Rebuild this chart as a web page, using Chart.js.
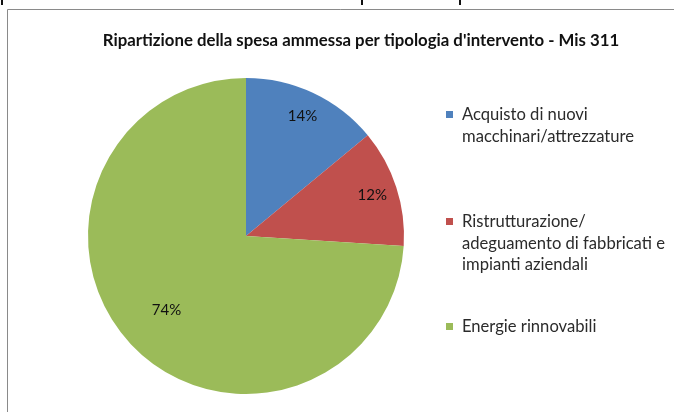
<!DOCTYPE html>
<html>
<head>
<meta charset="utf-8">
<script src="https://cdn.jsdelivr.net/npm/chart.js@4.4.0/dist/chart.umd.min.js"></script>
<style>
  html, body { margin: 0; padding: 0; background: #fff; }
  #wrap { position: relative; width: 674px; height: 412px; }
</style>
</head>
<body>
<div id="wrap"><canvas id="graficoTorta" width="674" height="412"></canvas></div>
<script>
// Dati del grafico
const titolo = "Ripartizione della spesa ammessa per tipologia d'intervento - Mis 311";
const categorie = [
    ["Acquisto di nuovi", "macchinari/attrezzature"],
    ["Ristrutturazione/", "adeguamento di fabbricati e", "impianti aziendali"],
    ["Energie rinnovabili"]
];
const percentuali = [14, 12, 74];
const colori = ["#4F81BD", "#C0504D", "#9BBB59"];

// Plugin per cornice, titolo, etichette e legenda
const decorazioni = {
    id: "decorazioni",
    beforeDraw(chart) {
        const ctx = chart.ctx;
        ctx.save();
        ctx.fillStyle = "#fff";
        ctx.fillRect(0, 0, chart.width, chart.height);
        // cornice del grafico (solo lati superiore e sinistro visibili)
        ctx.strokeStyle = "#8a8a8a";
        ctx.lineWidth = 1;
        ctx.beginPath();
        ctx.moveTo(7.5, chart.height);
        ctx.lineTo(7.5, 9.5);
        ctx.lineTo(chart.width, 9.5);
        ctx.stroke();
        // resti del testo soprastante
        ctx.fillStyle = "#111";
        [1, 361, 459].forEach(x => ctx.fillRect(x, 0, 2, 5));
        ctx.restore();
    },
    afterDraw(chart, args, opts) {
        const ctx = chart.ctx;
        ctx.save();

        // titolo
        ctx.fillStyle = "#111";
        ctx.font = "bold 16.8px Lato, 'Open Sans', sans-serif";
        ctx.textAlign = "center";
        ctx.textBaseline = "middle";
        ctx.fillText(titolo, 361, 41);

        // percentuali dentro le fette
        ctx.font = "15px Lato, 'Open Sans', sans-serif";
        ctx.fillStyle = "#111";
        const meta = chart.getDatasetMeta(0);
        meta.data.forEach((arc, i) => {
            const a = (arc.startAngle + arc.endAngle) / 2;
            const r = arc.outerRadius * opts.raggioEtichette[i];
            ctx.fillText(percentuali[i] + "%", arc.x + Math.cos(a) * r, arc.y + Math.sin(a) * r);
        });

        // legenda a destra
        ctx.font = "16.6px Lato, 'Open Sans', sans-serif";
        ctx.textAlign = "left";
        categorie.forEach((righe, i) => {
            const y0 = opts.legendaY[i];
            ctx.fillStyle = colori[i];
            ctx.fillRect(446, y0 - 4, 7, 7);
            ctx.fillStyle = "#2b2b2b";
            righe.forEach((t, k) => ctx.fillText(t, 462, y0 + k * 21.5));
        });

        ctx.restore();
    }
};

new Chart(document.getElementById("graficoTorta"), {
    type: "pie",
    data: {
        labels: categorie.map(r => r.join(" ")),
        datasets: [{
            data: percentuali,
            backgroundColor: colori,
            borderWidth: 0
        }]
    },
    options: {
        responsive: false,
        animation: false,
        layout: { padding: { left: 88, top: 78, right: 270, bottom: 18 } },
        plugins: {
            legend: { display: false },
            tooltip: { enabled: false },
            decorazioni: {
                raggioEtichette: [0.84, 0.84, 0.69],
                legendaY: [115, 222, 327]
            }
        }
    },
    plugins: [decorazioni]
});
</script>
</body>
</html>
